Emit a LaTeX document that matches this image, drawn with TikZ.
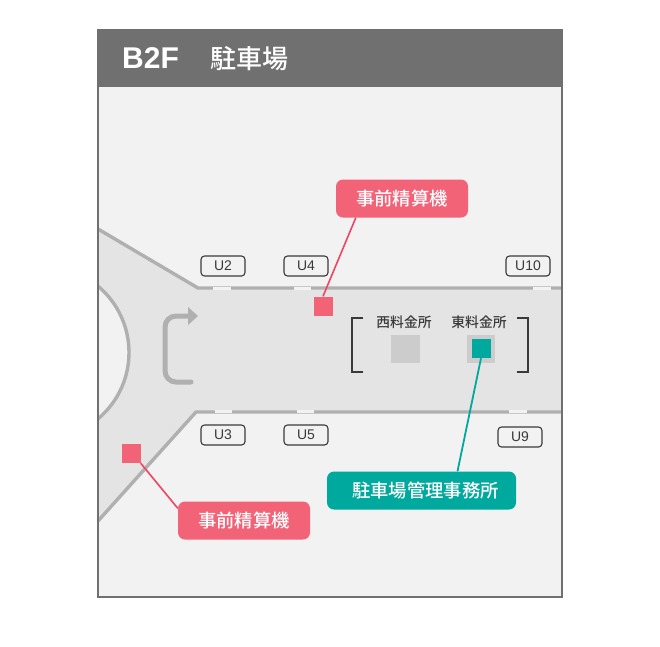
\documentclass[tikz,border=0pt]{standalone}
\usepackage{fontspec}
\setmainfont{Liberation Sans}
\newfontfamily\jpfont[BoldFont={Noto Sans CJK JP Bold}]{Noto Sans CJK JP Medium}
\usetikzlibrary{positioning, calc, arrows.meta}
\definecolor{framegray}{HTML}{707070}
\definecolor{floorgray}{HTML}{F2F2F2}
\definecolor{roadgray}{HTML}{E4E4E4}
\definecolor{edgegray}{HTML}{B0B0B0}
\definecolor{boxgray}{HTML}{CCCCCC}
\definecolor{darkline}{HTML}{3A3A3A}
\definecolor{kioskpink}{HTML}{F26378}
\definecolor{leaderpink}{HTML}{EE4562}
\definecolor{officeteal}{HTML}{00A99D}
\tikzset{
  edgeline/.style={edgegray, line width=3.4pt},
  gapline/.style={floorgray, line width=3.8pt},
  exitbox/.style={draw=darkline, line width=1.1pt, rounded corners=3.5pt, minimum width=44pt, minimum height=20pt, inner sep=0pt, font=\fontsize{14}{14}\selectfont, text=darkline},
  kiosk/.style={fill=kioskpink, minimum size=19pt, inner sep=0pt},
  booth/.style={fill=boxgray, minimum size=28.5pt, inner sep=0pt},
  calllabel/.style={rounded corners=7pt, minimum height=38pt, inner sep=0pt, text=white, font=\jpfont\fontsize{18.3}{19}\selectfont},
  boothlabel/.style={inner sep=0pt, text=darkline, font=\jpfont\fontsize{13.8}{14}\selectfont},
}
\begin{document}
\begin{tikzpicture}[x=1pt, y=-1pt]
      \useasboundingbox (0, 0) rectangle (660, 646);
      \fill[white] (0, 0) rectangle (660, 646);

      % floor and road
      \fill[floorgray] (98, 30) rectangle (562, 597);
      \fill[roadgray] (98, 229) -- (198, 288) -- (562, 288) -- (562, 412) -- (196, 412) -- (98, 521) -- cycle;
      \draw[edgeline, line join=round] (98, 229) -- (198, 288) -- (562, 288);
      \draw[edgeline, line join=round] (98, 521) -- (196, 412) -- (562, 412);
      \begin{scope}
        \clip (98, 30) rectangle (562, 597);
        \fill[floorgray, draw=edgegray, line width=3.4pt] (42.5, 352.5) circle[radius=86.5pt];
      \end{scope}

      % openings in the road edge
      \foreach \a/\b in {213/231, 294/311, 533/551}
        \draw[gapline] (\a, 288.5) -- (\b, 288.5);
      \foreach \a/\b in {215/232, 297/314, 509/527}
        \draw[gapline] (\a, 411.5) -- (\b, 411.5);

      % turning arrow
      \draw[edgegray, line width=5pt, line cap=round, rounded corners=11pt] (191, 382) -- (165, 382) -- (165, 316) -- (190, 316);
      \fill[edgegray] (198, 316) -- (188, 307) -- (188, 325) -- cycle;

      % header
      \fill[framegray] (98, 30) rectangle (562, 87);
      \node[anchor=west, inner sep=0pt, text=white, font=\bfseries\fontsize{30}{30}\selectfont] (floorname) at (122, 58.5) {B2F};
      \node[anchor=west, inner sep=0pt, text=white, font=\jpfont\fontsize{26}{26}\selectfont] (floortitle) at (210, 58.5) {駐車場};
      \draw[framegray, line width=2pt] (98, 30) rectangle (562, 597);

      % exits
      \node[exitbox] (u2) at (223, 266) {U2};
      \node[exitbox] (u4) at (306, 266) {U4};
      \node[exitbox] (u10) at (528, 266) {U10};
      \node[exitbox] (u3) at (223, 435) {U3};
      \node[exitbox] (u5) at (306, 435) {U5};
      \node[exitbox] (u9) at (520, 437) {U9};

      % booths
      \node[booth] (west) at (405.5, 349) {};
      \node[booth] (east) at (481, 349) {};
      \node[boothlabel] (westlabel) at (404, 322) {西料金所};
      \node[boothlabel] (eastlabel) at (479, 322) {東料金所};
      \draw[darkline, line width=1.4pt] (363, 318) -- (352, 318) -- (352, 372) -- (363, 372);
      \draw[darkline, line width=1.4pt] (517, 318) -- (528, 318) -- (528, 372) -- (517, 372);

      % kiosks and office
      \node[kiosk] (kioskupper) at (323, 306) {};
      \node[kiosk] (kiosklower) at (131, 453.5) {};
      \node[fill=officeteal, minimum size=19pt, inner sep=0pt] (office) at (481, 348.5) {};

      \node[calllabel, fill=kioskpink, minimum width=132pt] (labelupper) at (402, 198.5) {事前精算機};
      \node[calllabel, fill=kioskpink, minimum width=132pt] (labellower) at (244, 520.5) {事前精算機};
      \node[calllabel, fill=officeteal, minimum width=189pt] (labeloffice) at (421.5, 490.5) {\hspace{8pt}駐車場管理事務所};

      \draw[leaderpink, line width=1.6pt] (kioskupper.north) -- ($(labelupper.south west)+(20, 0)$);
      \draw[leaderpink, line width=1.6pt] (kiosklower.south east) -- ($(labellower.north west)+(0, 7)$);
      \draw[officeteal, line width=1.8pt] (office.south) -- ($(labeloffice.north)+(36, 0)$);

    \end{tikzpicture}
\end{document}
